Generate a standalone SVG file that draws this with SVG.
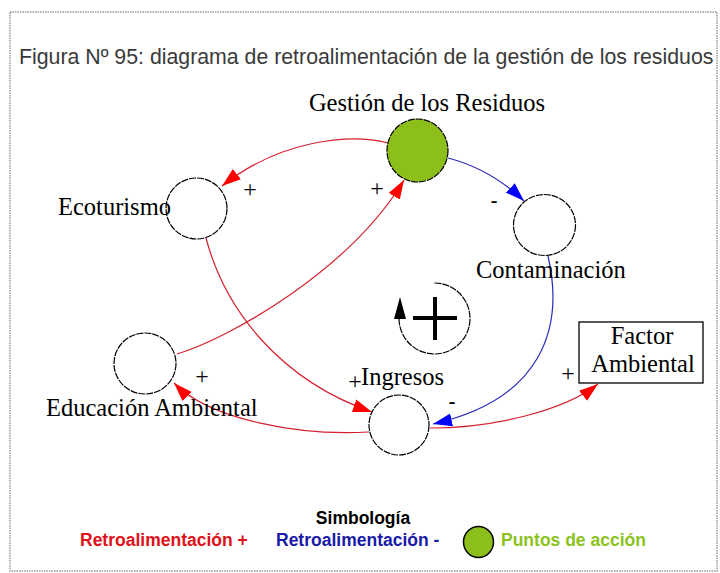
<svg xmlns="http://www.w3.org/2000/svg" width="720" height="573" viewBox="0 0 720 573">
<style>
  .node{fill:#fff;stroke:#000;stroke-width:1.2;stroke-dasharray:7 1}
  .act{fill:#8cbf1a;stroke:#000;stroke-width:1.2;stroke-dasharray:7 1}
  .lbl{font-family:"Liberation Serif","Times New Roman",serif;font-size:24.5px;fill:#000}
  .sign{font-family:"Liberation Serif","Times New Roman",serif;font-size:24px;fill:#000;text-anchor:middle}
  .minus{font-family:"Liberation Serif","Times New Roman",serif;font-size:20px;fill:#000;text-anchor:middle;font-weight:bold}
  .pos{fill:none;stroke:#d42030;stroke-width:1.2}
  .neg{fill:none;stroke:#2a2ab8;stroke-width:1.2}
  .leg{font-family:"Liberation Sans",Arial,sans-serif;font-size:17.5px;font-weight:bold}
</style>
<defs>
  <marker id="arrR" markerUnits="userSpaceOnUse" markerWidth="20" markerHeight="14" refX="19" refY="7" orient="auto">
    <path d="M0,0.5 L19,7 L0,13.5 z" fill="#ff0000"/>
  </marker>
  <marker id="arrB" markerUnits="userSpaceOnUse" markerWidth="20" markerHeight="14" refX="19" refY="7" orient="auto">
    <path d="M0,0.5 L19,7 L0,13.5 z" fill="#0000ff"/>
  </marker>
</defs>
<rect x="10" y="12" width="707" height="559" fill="#fff" stroke="#9a9a9a" stroke-width="1.5" stroke-dasharray="1.5 1"/>
<text x="19" y="64" font-family="Liberation Sans, Arial, sans-serif" font-size="21.3" fill="#3a3a3a">Figura Nº 95: diagrama de retroalimentación de la gestión de los residuos</text>

<g id="connectors">
  <path class="pos" d="M388,143 C350,133 280,140 222,186" marker-end="url(#arrR)"/>
  <path class="pos" d="M177,354 C230,338 350,270 404,180" marker-end="url(#arrR)"/>
  <path class="neg" d="M448,158 C475,165 500,178 524,201" marker-end="url(#arrB)"/>
  <path class="pos" d="M206,238 C225,310 280,380 372,412" marker-end="url(#arrR)"/>
  <path class="pos" d="M369,432 C300,436 210,420 174,383" marker-end="url(#arrR)"/>
  <path class="pos" d="M430,428 C495,428 565,410 598,384" marker-end="url(#arrR)"/>
  <path class="neg" d="M548,256 C565,330 540,400 433,424" marker-end="url(#arrB)"/>
  <text class="sign" x="250" y="197">+</text>
  <text class="sign" x="377" y="196">+</text>
  <text class="minus" x="494" y="207">-</text>
  <text class="sign" x="202" y="384">+</text>
  <text class="sign" x="355" y="389">+</text>
  <text class="minus" x="452" y="408">-</text>
  <text class="sign" x="568" y="381">+</text>
</g>

<g id="n-gestion">
  <ellipse class="act" cx="417.5" cy="150.5" rx="30.5" ry="31.5"/>
  <text class="lbl" x="427" y="111" text-anchor="middle" font-size="25">Gestión de los Residuos</text>
</g>
<g id="n-ecoturismo">
  <ellipse class="node" cx="196.5" cy="208.5" rx="30.5" ry="30.5"/>
  <text class="lbl" x="58" y="215">Ecoturismo</text>
</g>
<g id="n-contaminacion">
  <ellipse class="node" cx="544.5" cy="225" rx="31" ry="30.5"/>
  <text class="lbl" x="476" y="278">Contaminación</text>
</g>
<g id="n-educacion">
  <ellipse class="node" cx="145" cy="363.5" rx="31" ry="30.5"/>
  <text class="lbl" x="46" y="416">Educación Ambiental</text>
</g>
<g id="n-ingresos">
  <ellipse class="node" cx="399" cy="425" rx="30" ry="30"/>
  <text class="lbl" x="361" y="385">Ingresos</text>
</g>
<g id="n-factor">
  <rect x="579" y="322" width="124" height="61" fill="#fff" stroke="#000" stroke-width="1.3"/>
  <text class="lbl" x="642" y="344" text-anchor="middle" font-size="24">Factor</text>
  <text class="lbl" x="643" y="372" text-anchor="middle" font-size="24">Ambiental</text>
</g>

<g id="loop">
  <path d="M434.5,283 A35.5,35.5 0 1 1 399,318.5" fill="none" stroke="#000" stroke-width="1.2" stroke-dasharray="7 1"/>
  <path d="M400,297 L406,319 L394,319 z" fill="#000"/>
  <path d="M413,318 H457 M435,297 V340" stroke="#000" stroke-width="4" fill="none"/>
</g>

<g id="legend">
  <text class="leg" x="363" y="524" text-anchor="middle" fill="#000">Simbología</text>
  <text class="leg" x="80" y="546" fill="#e01018">Retroalimentación +</text>
  <text class="leg" x="276" y="546" fill="#1a1aa8">Retroalimentación -</text>
  <ellipse cx="478.5" cy="542" rx="15" ry="15.5" fill="#8cbf1a" stroke="#000" stroke-width="1.5"/>
  <text class="leg" x="501" y="546" fill="#8cc21c">Puntos de acción</text>
</g>
</svg>
